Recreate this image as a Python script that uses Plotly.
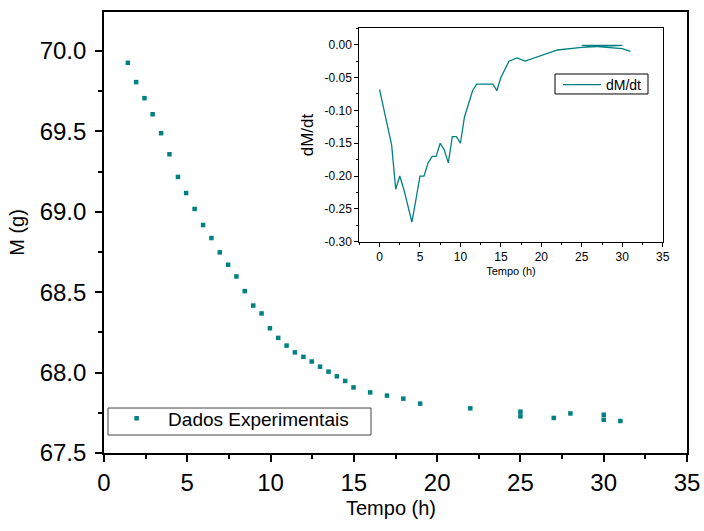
import plotly.graph_objects as go

# Main data: experimental mass vs time
tempo = [1.43, 1.93, 2.43, 2.92, 3.43, 3.93, 4.44, 4.93, 5.44, 5.95,
         6.45, 6.95, 7.45, 7.95, 8.45, 8.96, 9.46, 9.96, 10.46, 10.96,
         11.46, 11.97, 12.47, 12.97, 13.48, 13.98, 14.48, 14.98, 15.98, 16.99,
         17.97, 18.98, 21.99, 25.0, 25.0, 27.0, 28.0, 30.0, 30.0, 31.0]
massa = [69.927, 69.807, 69.707, 69.607, 69.489, 69.358, 69.217, 69.117, 69.018, 68.918,
         68.837, 68.748, 68.671, 68.598, 68.507, 68.417, 68.368, 68.276, 68.216, 68.168,
         68.126, 68.098, 68.069, 68.037, 68.006, 67.977, 67.948, 67.908, 67.877, 67.857,
         67.838, 67.807, 67.778, 67.757, 67.728, 67.718, 67.746, 67.738, 67.707, 67.699]

# Inset data: derivative dM/dt
tempo_d = [0, 1.5, 2, 2.5, 3, 3.5, 4, 4.5, 5, 5.5,
           6, 6.5, 7, 7.5, 8, 8.5, 9, 9.5, 10, 10.5,
           11, 11.5, 12, 14, 14.5, 15, 16, 17, 18, 22,
           25, 30, 25, 30, 31]
dmdt = [-0.068, -0.153, -0.22, -0.20, -0.22, -0.247, -0.27, -0.236, -0.20, -0.20,
        -0.18, -0.17, -0.17, -0.15, -0.16, -0.18, -0.14, -0.14, -0.15, -0.11,
        -0.09, -0.07, -0.06, -0.06, -0.07, -0.05, -0.025, -0.02, -0.025, -0.008,
        -0.004, -0.001, -0.001, -0.006, -0.010]

main_yticks = [67.5, 68.0, 68.5, 69.0, 69.5, 70.0]
inset_yticks = [0.0, -0.05, -0.10, -0.15, -0.20, -0.25, -0.30]
inset_yticktext = ["0.00", "-0.05", "-0.10", "-0.15", "-0.20", "-0.25", "-0.30"]

TEAL = "#008080"
FONT = "Liberation Sans, Arial, sans-serif"

fig = go.Figure()
fig.add_trace(go.Scatter(
    x=tempo, y=massa, mode="markers", name="Dados Experimentais",
    marker=dict(symbol="square", size=4.5, color=TEAL),
    legend="legend", showlegend=True,
))
fig.add_trace(go.Scatter(
    x=tempo_d, y=dmdt, mode="lines", name="dM/dt",
    line=dict(color=TEAL, width=1.3),
    xaxis="x2", yaxis="y2", legend="legend2", showlegend=True,
))

axis_common = dict(showgrid=False, zeroline=False, showline=True, linecolor="black",
                   mirror=True, ticks="outside", tickcolor="black", automargin=False)

fig.update_layout(
    width=704, height=531,
    margin=dict(l=104, r=17, t=12, b=78),
    plot_bgcolor="white", paper_bgcolor="white",
    showlegend=True,
    font=dict(family=FONT, color="black"),
    xaxis=dict(**axis_common, range=[0, 35], tick0=0, dtick=5, linewidth=1.6,
               ticklen=7, tickwidth=1.6, tickfont=dict(size=24),
               minor=dict(dtick=2.5, ticklen=4, tickwidth=1.6, ticks="outside", tickcolor="black")),
    yaxis=dict(**axis_common, range=[67.5, 70.243], tickvals=main_yticks, tickformat=".1f",
               linewidth=1.6, ticklen=7, tickwidth=1.6, tickfont=dict(size=24), ticklabelstandoff=4,
               minor=dict(tick0=67.5, dtick=0.25, ticklen=4, tickwidth=1.6, ticks="outside", tickcolor="black"),
               title=dict(text="M (g)", font=dict(size=20), standoff=10)),
    xaxis2=dict(**axis_common, domain=[0.4379, 0.9583], anchor="y2", range=[-2.5, 35],
                tick0=0, dtick=5, linewidth=1, ticklen=4, tickwidth=1, tickfont=dict(size=12),
                minor=dict(dtick=2.5, ticklen=2, tickwidth=1, ticks="outside", tickcolor="black"),
                title=dict(text="Tempo (h)", font=dict(size=11), standoff=4)),
    yaxis2=dict(**axis_common, domain=[0.4791, 0.9630], anchor="x2", range=[-0.30, 0.025],
                tickvals=inset_yticks, ticktext=inset_yticktext,
                linewidth=1, ticklen=4, tickwidth=1, tickfont=dict(size=12),
                minor=dict(tick0=0, dtick=0.025, ticklen=2, tickwidth=1, ticks="outside", tickcolor="black"),
                title=dict(text="dM/dt", font=dict(size=17), standoff=6)),
    legend=dict(x=0.0019, y=0.1213, xanchor="left", yanchor="top", bgcolor="rgba(0,0,0,0)",
                borderwidth=0, font=dict(size=19), itemwidth=53),
    legend2=dict(x=0.7787, y=0.8707, xanchor="left", yanchor="top", bgcolor="rgba(0,0,0,0)",
                 borderwidth=0, font=dict(size=14), itemwidth=38),
    shapes=[
        dict(type="rect", xref="paper", yref="paper", x0=0.00686, x1=0.458, y0=0.0408, y1=0.102,
             line=dict(color="#444", width=1), fillcolor="white", layer="above"),
        dict(type="rect", xref="paper", yref="paper", x0=0.7736, x1=0.9331, y0=0.8141, y1=0.8594,
             line=dict(color="black", width=1), fillcolor="white", layer="above"),
    ],
    annotations=[
        dict(text="Tempo (h)", xref="paper", yref="paper", x=0.4923, y=-0.1247,
             xanchor="center", yanchor="middle", showarrow=False, font=dict(size=20)),
    ],
)

fig.write_html("out.html", config={"displayModeBar": False},
               post_script="document.body.style.margin='0';")
